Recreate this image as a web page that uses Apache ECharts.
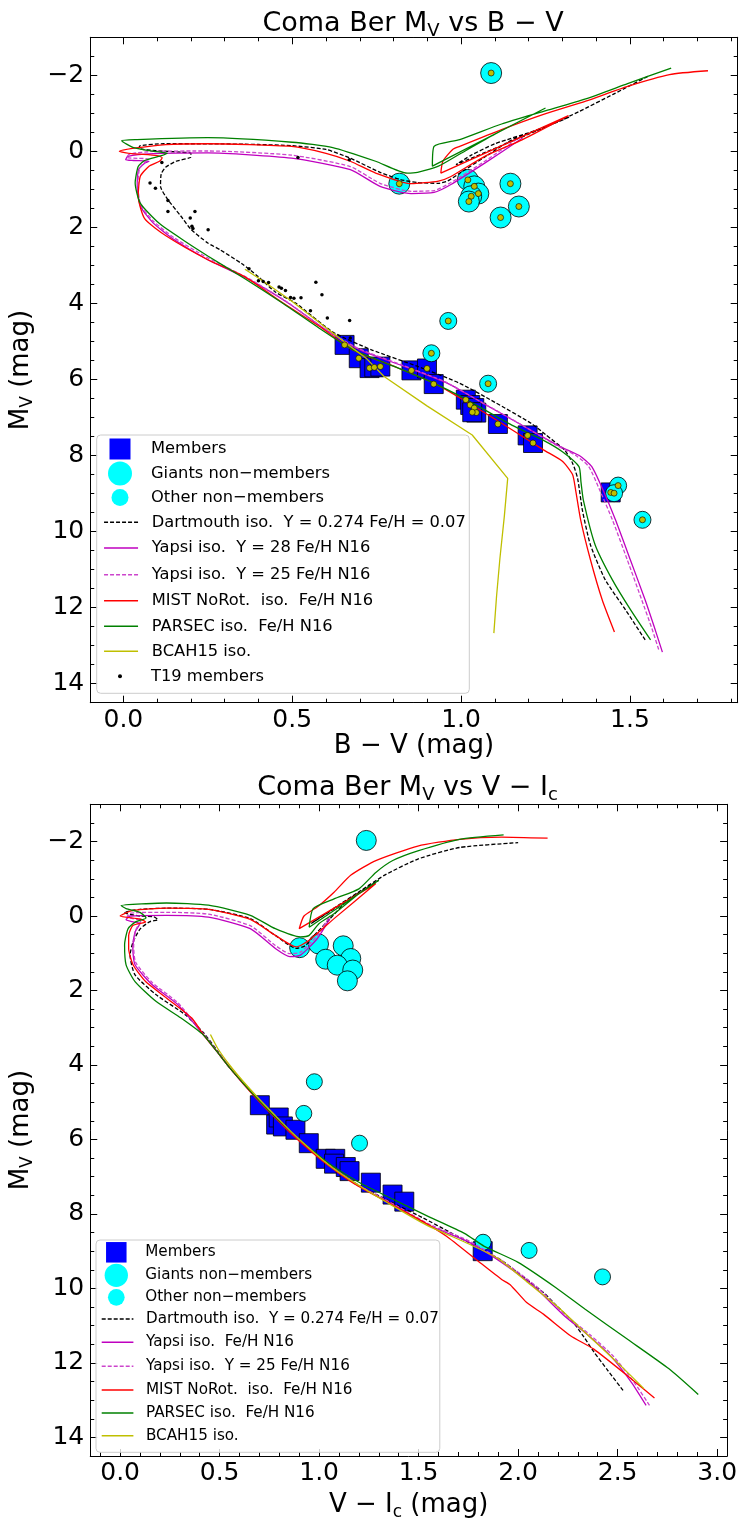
<!DOCTYPE html>
<html><head><meta charset="utf-8">
<script src="https://cdn.jsdelivr.net/npm/echarts@6/dist/echarts.min.js"></script>
<style>html,body{margin:0;padding:0;background:#fff}#c{width:740px;height:1522px}</style>
</head><body><div id="c"></div>
<script>
// ---------- tick labels ----------
const bvXTicks = [0, 0.5, 1.0, 1.5];
const viXTicks = [0, 0.5, 1.0, 1.5, 2.0, 2.5, 3.0];
const magTicks = [-2, 0, 2, 4, 6, 8, 10, 12, 14];

// ---------- top panel: Mv vs B-V ----------
const bvMembers = [[0.655,5.09],[0.697,5.44],[0.729,5.70],[0.743,5.68],[0.761,5.66],[0.853,5.76],[0.899,5.71],[0.919,6.12],[1.014,6.53],[1.027,6.67],[1.039,6.75],[1.045,6.87],[1.033,6.86],[1.109,7.17],[1.197,7.47],[1.213,7.67],[1.443,8.97]];
const bvGiants = [[1.089,-2.06],[0.817,0.85],[1.020,0.75],[1.039,0.92],[1.051,1.11],[1.030,1.18],[1.023,1.32],[1.146,0.85],[1.171,1.45],[1.117,1.74]];
const bvOthers = [[0.962,4.46],[0.912,5.31],[1.080,6.11],[1.465,8.79],[1.453,8.99],[1.537,9.69]];
const bvT19 = [[0.114,0.29],[0.079,0.83],[0.095,0.97],[0.132,1.29],[0.132,1.58],[0.198,1.75],[0.203,1.97],[0.206,2.03],[0.212,1.58],[0.251,2.06],[0.517,0.16],[0.669,0.22],[0.372,3.09],[0.40,3.40],[0.414,3.42],[0.43,3.45],[0.461,3.57],[0.468,3.60],[0.48,3.66],[0.495,3.84],[0.505,3.86],[0.526,3.85],[0.554,4.19],[0.570,3.44],[0.588,3.77],[0.604,4.38],[0.670,4.45],[0.672,4.91]];
const bvDartmouth = [[1.545,12.85],[1.487,12.06],[1.427,11.27],[1.383,10.35],[1.359,9.43],[1.345,8.6],[1.33,8.2],[1.306,7.85],[1.25,7.45],[1.207,7.15],[1.10,6.6],[0.996,6.1],[0.87,5.65],[0.735,5.22],[0.62,4.75],[0.51,3.99],[0.45,3.7],[0.399,3.29],[0.35,2.95],[0.287,2.59],[0.25,2.41],[0.2,2.05],[0.17,1.7],[0.132,1.27],[0.11,0.92],[0.112,0.6],[0.125,0.42],[0.156,0.26],[0.2,0.15],[0.2,0.05],[0.17,0.02],[0.095,-0.02],[0.045,-0.08],[0.05,-0.15],[0.12,-0.2],[0.25,-0.2],[0.4,-0.18],[0.498,-0.15],[0.6,-0.05],[0.672,0.18],[0.76,0.55],[0.82,0.74],[0.871,0.82],[0.933,0.84],[0.96,0.78],[1.0,0.55],[1.07,0.15],[1.15,-0.3],[1.25,-0.65],[1.32,-0.9],[0.985,0.35],[1.03,0.1],[1.1,-0.2],[1.244,-0.62],[1.35,-1.05],[1.45,-1.5],[1.557,-1.99]];
const bvYapsi28 = [[1.596,13.17],[1.575,12.59],[1.545,11.8],[1.501,10.74],[1.457,9.69],[1.42,8.9],[1.387,8.29],[1.35,8.0],[1.29,7.75],[1.17,7.15],[1.06,6.6],[0.96,6.1],[0.83,5.65],[0.70,5.22],[0.6,4.7],[0.49,4.0],[0.374,3.38],[0.25,2.85],[0.15,2.32],[0.088,1.88],[0.051,1.45],[0.041,0.92],[0.045,0.48],[0.063,0.31],[0.076,0.26],[0.03,0.24],[0.007,0.22],[0.013,0.13],[0.088,0.06],[0.25,0.04],[0.498,0.18],[0.672,0.48],[0.76,0.92],[0.852,1.11],[0.92,1.08],[0.97,0.87],[1.07,0.31],[1.182,-0.35]];
const bvYapsi25 = [[1.585,13.1],[1.565,12.55],[1.535,11.8],[1.492,10.74],[1.448,9.69],[1.41,8.9],[1.378,8.29],[1.34,8.0],[1.28,7.72],[1.165,7.12],[1.055,6.57],[0.955,6.07],[0.825,5.62],[0.695,5.18],[0.595,4.66],[0.485,3.96],[0.37,3.34],[0.25,2.80],[0.15,2.27],[0.088,1.83],[0.051,1.40],[0.043,0.88],[0.048,0.45],[0.065,0.27],[0.075,0.2],[0.03,0.18],[0.01,0.16],[0.018,0.07],[0.09,0.0],[0.25,-0.01],[0.498,0.1],[0.672,0.4],[0.76,0.84],[0.852,1.05],[0.92,1.03],[0.97,0.82],[1.07,0.26],[1.175,-0.38]];
const bvMIST = [[1.454,12.64],[1.418,11.8],[1.383,10.74],[1.354,9.69],[1.339,8.9],[1.33,8.5],[1.3,8.15],[1.244,7.85],[1.12,7.15],[1.0,6.5],[0.921,6.1],[0.8,5.65],[0.679,5.22],[0.58,4.6],[0.473,3.99],[0.36,3.3],[0.25,2.85],[0.126,2.22],[0.063,1.77],[0.044,1.18],[0.05,0.66],[0.076,0.39],[0.107,0.26],[0.115,0.17],[0.1,0.11],[0.025,0.06],[-0.012,0.0],[0.038,-0.09],[0.126,-0.18],[0.25,-0.2],[0.498,-0.13],[0.6,0.05],[0.672,0.26],[0.747,0.57],[0.852,0.85],[0.933,0.78],[0.97,0.66],[1.07,0.13],[1.182,-0.31],[1.318,-0.94],[0.94,0.57],[0.946,0.26],[0.975,-0.05],[0.996,-0.13],[1.12,-0.57],[1.244,-0.97],[1.369,-1.32],[1.493,-1.71],[1.617,-2.02],[1.731,-2.12]];
const bvPARSEC = [[1.561,12.85],[1.502,12.06],[1.448,11.27],[1.397,10.35],[1.362,9.17],[1.355,8.7],[1.349,8.29],[1.3,7.9],[1.244,7.6],[1.15,7.2],[1.0,6.45],[0.92,6.1],[0.8,5.65],[0.68,5.22],[0.58,4.65],[0.473,4.0],[0.36,3.35],[0.25,2.75],[0.18,2.35],[0.107,1.9],[0.05,1.36],[0.035,0.83],[0.044,0.4],[0.063,0.24],[0.11,0.12],[0.13,0.05],[0.09,0.0],[0.03,-0.1],[-0.005,-0.28],[0.04,-0.31],[0.25,-0.36],[0.5,-0.24],[0.62,-0.1],[0.747,0.26],[0.84,0.57],[0.871,0.55],[0.933,0.39],[1.0,0.05],[1.1,-0.45],[1.25,-1.14],[0.915,0.39],[0.92,-0.13],[0.996,-0.31],[1.12,-0.72],[1.244,-1.05],[1.369,-1.38],[1.493,-1.78],[1.622,-2.19]];
const bvBCAH15 = [[0.36,3.1],[0.42,3.45],[0.5,3.95],[0.58,4.5],[0.66,5.05],[0.72,5.45],[0.772,5.92],[0.9,6.7],[1.033,7.46],[1.138,8.6],[1.128,9.6],[1.115,10.7],[1.105,11.7],[1.097,12.67]];

// ---------- bottom panel: Mv vs V-Ic ----------
const viMembers = [[0.702,5.08],[0.784,5.60],[0.797,5.41],[0.818,5.65],[0.881,5.74],[0.948,6.10],[1.033,6.52],[1.081,6.52],[1.075,6.65],[1.134,6.74],[1.153,6.85],[1.260,7.16],[1.369,7.48],[1.428,7.67],[1.822,9.00]];
const viGiants = [[1.237,-2.03],[0.902,0.85],[0.997,0.75],[1.033,1.16],[1.121,0.80],[1.159,1.14],[1.091,1.32],[1.169,1.45],[1.142,1.74]];
const viOthers = [[0.976,4.45],[0.923,5.30],[1.203,6.10],[1.824,8.76],[2.055,8.98],[2.424,9.69]];
const viDartmouth = [[2.527,12.74],[2.45,12.2],[2.38,11.7],[2.33,11.3],[2.275,10.9],[2.2,10.5],[2.127,10.11],[2.04,9.75],[1.917,9.25],[1.78,8.85],[1.66,8.5],[1.52,8.1],[1.35,7.65],[1.19,7.2],[1.07,6.75],[0.965,6.3],[0.87,5.85],[0.785,5.4],[0.70,4.96],[0.625,4.51],[0.55,4.07],[0.49,3.63],[0.42,3.14],[0.327,2.65],[0.18,2.11],[0.075,1.58],[0.05,1.05],[0.065,0.7],[0.1,0.35],[0.15,0.15],[0.19,0.1],[0.17,0.02],[0.1,0.0],[0.02,-0.09],[0.1,-0.18],[0.233,-0.21],[0.444,-0.18],[0.654,0.07],[0.78,0.52],[0.885,0.87],[0.93,0.8],[0.97,0.55],[1.05,0.1],[1.15,-0.45],[1.3,-0.96],[0.96,0.2],[1.1,-0.3],[1.2,-0.65],[1.327,-1.09],[1.496,-1.53],[1.706,-1.84],[2.0,-1.97]];
const viYapsi = [[2.643,13.14],[2.569,12.52],[2.464,11.81],[2.35,11.25],[2.233,10.74],[2.08,9.95],[1.917,9.3],[1.75,8.75],[1.55,8.3],[1.37,7.75],[1.19,7.22],[1.065,6.76],[0.96,6.3],[0.865,5.85],[0.78,5.4],[0.70,4.96],[0.62,4.51],[0.55,4.07],[0.485,3.63],[0.42,3.2],[0.29,2.38],[0.16,1.84],[0.075,1.31],[0.064,0.87],[0.075,0.43],[0.1,0.2],[0.06,0.15],[0.03,0.1],[0.05,0.0],[0.233,-0.02],[0.444,0.03],[0.654,0.34],[0.78,0.87],[0.853,1.09],[0.906,1.05],[0.99,0.61],[1.054,0.07]];
const viYapsi25 = [[2.66,13.14],[2.58,12.5],[2.475,11.8],[2.36,11.24],[2.24,10.72],[2.09,9.94],[1.925,9.28],[1.755,8.73],[1.555,8.28],[1.372,7.73],[1.19,7.2],[1.065,6.74],[0.96,6.28],[0.865,5.83],[0.78,5.38],[0.70,4.94],[0.62,4.49],[0.55,4.05],[0.485,3.61],[0.42,3.17],[0.29,2.33],[0.16,1.78],[0.078,1.24],[0.068,0.8],[0.08,0.36],[0.105,0.12],[0.065,0.07],[0.035,0.02],[0.055,-0.08],[0.233,-0.1],[0.444,-0.05],[0.654,0.26],[0.78,0.79],[0.853,1.01],[0.906,0.97],[0.99,0.53],[1.054,-0.01]];
const viMIST = [[2.685,12.94],[2.569,12.43],[2.38,11.63],[2.263,11.27],[2.127,10.69],[2.043,10.38],[1.96,9.9],[1.917,9.76],[1.79,9.23],[1.64,8.6],[1.52,8.2],[1.35,7.7],[1.18,7.2],[1.06,6.75],[0.955,6.3],[0.86,5.85],[0.775,5.4],[0.695,4.96],[0.62,4.51],[0.55,4.07],[0.485,3.63],[0.42,3.2],[0.36,2.74],[0.233,2.2],[0.128,1.76],[0.065,1.31],[0.043,0.87],[0.043,0.52],[0.065,0.25],[0.128,0.16],[0.1,0.08],[0.0,0.0],[0.065,-0.15],[0.233,-0.21],[0.444,-0.18],[0.654,0.09],[0.78,0.52],[0.885,0.83],[0.95,0.65],[1.075,0.07],[1.285,-0.87],[0.9,0.34],[0.924,0.0],[0.99,-0.24],[1.075,-0.64],[1.16,-1.1],[1.285,-1.49],[1.496,-1.88],[1.706,-2.06],[1.917,-2.12],[2.148,-2.09]];
const viPARSEC = [[2.905,12.85],[2.758,12.16],[2.548,11.36],[2.337,10.56],[2.19,9.98],[2.0,9.3],[1.83,8.87],[1.73,8.52],[1.55,8.07],[1.38,7.63],[1.2,7.15],[1.07,6.72],[0.965,6.29],[0.87,5.85],[0.78,5.4],[0.70,4.96],[0.622,4.51],[0.55,4.07],[0.485,3.63],[0.42,3.2],[0.306,2.74],[0.18,2.29],[0.075,1.76],[0.03,1.31],[0.0225,0.78],[0.04,0.34],[0.08,0.15],[0.13,0.05],[0.1,-0.1],[0.03,-0.2],[0.005,-0.28],[0.13,-0.33],[0.233,-0.35],[0.444,-0.29],[0.654,-0.02],[0.78,0.34],[0.906,0.56],[0.95,0.52],[1.0,0.2],[1.075,-0.06],[1.2,-0.6],[1.3,-0.96],[0.95,0.3],[0.97,-0.2],[1.075,-0.46],[1.2,-0.73],[1.285,-1.17],[1.37,-1.49],[1.496,-1.75],[1.706,-2.06],[1.927,-2.18]];
const viBCAH15 = [[0.454,3.18],[0.49,3.55],[0.55,4.0],[0.62,4.45],[0.70,4.92],[0.78,5.36],[0.865,5.82],[0.96,6.28],[1.065,6.75],[1.19,7.2],[1.35,7.72],[1.54,8.3],[1.75,8.8],[1.9,9.2],[2.05,9.85],[2.2,10.5],[2.3,11.0],[2.4,11.5],[2.52,12.1],[2.632,12.69]];

// ---------- legend labels ----------
const NM_MEM = 'Members', NM_GIA = 'Giants non\u2212members', NM_OTH = 'Other non\u2212members';
const NM_DART = 'Dartmouth iso.  Y = 0.274 Fe/H = 0.07';
const NM_Y28 = 'Yapsi iso.  Y = 28 Fe/H N16', NM_Y25 = 'Yapsi iso.  Y = 25 Fe/H N16', NM_Y = 'Yapsi iso.  Fe/H N16';
const NM_MIST = 'MIST NoRot.  iso.  Fe/H N16', NM_PAR = 'PARSEC iso.  Fe/H N16', NM_BCAH = 'BCAH15 iso.', NM_T19 = 'T19 members';

const FONT = 'DejaVu Sans';
const minus = v => v < 0 ? '\u2212' + Math.abs(v) : String(v);
function minors(majors, step, lo, hi) {
  const out = [];
  for (let v = lo; v <= hi + 1e-9; v += step) {
    const r = Math.round(v * 100) / 100;
    if (!majors.some(m => Math.abs(m - r) < 1e-6)) out.push(r);
  }
  return out;
}
function axes(gi, dim, min, max, majors, minorVals, fmt, name, nameGap) {
  const pos = dim === 'x' ? ['bottom', 'top'] : ['left', 'right'];
  const base = {gridIndex: gi, type: 'value', min, max, splitLine: {show: false}, inverse: dim === 'y'};
  const line = {show: true, onZero: false, lineStyle: {color: '#000', width: 1}};
  const noLine = {show: false, onZero: false};
  const tk = (vals, len) => ({show: true, inside: true, length: len, customValues: vals, lineStyle: {color: '#000', width: 1}});
  return [
    Object.assign({}, base, {position: pos[0], axisLine: line, axisTick: tk(majors, 7),
      axisLabel: {show: true, customValues: majors, formatter: fmt, fontSize: 25, fontFamily: FONT, color: '#000', margin: dim === 'x' ? 5 : 6},
      name, nameLocation: 'middle', nameGap,
      nameTextStyle: {fontSize: 26, fontFamily: FONT, color: '#000',
        rich: {s: {fontSize: 17, fontFamily: FONT, color: '#000', padding: [14, 0, 0, 0]}}}}),
    Object.assign({}, base, {position: pos[0], axisLine: noLine, axisTick: tk(minorVals, 4), axisLabel: {show: false}}),
    Object.assign({}, base, {position: pos[1], axisLine: line, axisTick: tk(majors, 7), axisLabel: {show: false}}),
    Object.assign({}, base, {position: pos[1], axisLine: noLine, axisTick: tk(minorVals, 4), axisLabel: {show: false}})
  ];
}

const bvRange = [-0.098, 1.819], viRange = [-0.15, 3.05], magRange = [-3, 14.5];
const xAxes = [].concat(
  axes(0, 'x', bvRange[0], bvRange[1], bvXTicks, minors(bvXTicks, 0.1, 0.1, 1.8), v => v.toFixed(1), 'B \u2212 V (mag)', 28),
  axes(1, 'x', viRange[0], viRange[1], viXTicks, minors(viXTicks, 0.1, -0.1, 3.0), v => v.toFixed(1), 'V \u2212 I{s|c} (mag)', 34)
);
const yAxes = [].concat(
  axes(0, 'y', magRange[0], magRange[1], magTicks, minors(magTicks, 0.5, -2.5, 14), minus, 'M{s|V} (mag)', 39),
  axes(1, 'y', magRange[0], magRange[1], magTicks, minors(magTicks, 0.5, -2.5, 14), minus, 'M{s|V} (mag)', 39)
);

function lineS(name, data, gi, color, dashed, smooth) {
  return {type: 'line', name, data, xAxisIndex: gi * 4, yAxisIndex: gi * 4, symbol: 'none', showSymbol: false,
    smooth: smooth === undefined ? 0.2 : smooth,
    lineStyle: {color, width: 1.3, type: dashed ? [4, 2] : 'solid'}, itemStyle: {color}, z: 3, silent: true, animation: false};
}
function scat(name, data, gi, symbol, size, color, z) {
  return {type: 'scatter', name, data, xAxisIndex: gi * 4, yAxisIndex: gi * 4, symbol, symbolSize: size,
    itemStyle: {color, borderColor: '#000', borderWidth: 0.8, opacity: 1}, z: z || 2, silent: true, animation: false};
}

const series = [
  scat(NM_MEM, bvMembers, 0, 'rect', 19, '#0000ff'),
  scat(NM_GIA, bvGiants, 0, 'circle', 21, '#00ffff'),
  scat(NM_OTH, bvOthers, 0, 'circle', 17, '#00ffff'),
  lineS(NM_DART, bvDartmouth, 0, '#000000', true),
  lineS(NM_Y28, bvYapsi28, 0, '#bf00bf', false),
  lineS(NM_Y25, bvYapsi25, 0, '#cc44cc', true),
  lineS(NM_MIST, bvMIST, 0, '#ff0000', false),
  lineS(NM_PAR, bvPARSEC, 0, '#008000', false),
  lineS(NM_BCAH, bvBCAH15, 0, '#bfbf00', false, false),
  scat('olive', bvMembers.concat(bvGiants, bvOthers), 0, 'circle', 6, '#bfbf00', 4),
  scat(NM_T19, bvT19, 0, 'circle', 3.5, '#000000', 4),
  scat(NM_MEM, viMembers, 1, 'rect', 19, '#0000ff'),
  scat(NM_GIA, viGiants, 1, 'circle', 20, '#00ffff'),
  scat(NM_OTH, viOthers, 1, 'circle', 16, '#00ffff'),
  lineS(NM_DART, viDartmouth, 1, '#000000', true),
  lineS(NM_Y, viYapsi, 1, '#bf00bf', false),
  lineS(NM_Y25, viYapsi25, 1, '#cc44cc', true),
  lineS(NM_MIST, viMIST, 1, '#ff0000', false),
  lineS(NM_PAR, viPARSEC, 1, '#008000', false),
  lineS(NM_BCAH, viBCAH15, 1, '#bfbf00', false)
];
series[9].itemStyle.borderWidth = 0.6;
series[10].itemStyle.borderWidth = 0;

// legends: one component per row so each marker keeps its own size
function leg(name, cx, cy, w, h, textX, fs, icon) {
  const left = cx - w / 2;
  const hh = Math.max(h, 20);
  return {show: true, orient: 'vertical', left, top: cy - hh / 2, itemWidth: w, itemHeight: hh, padding: 0,
    data: [icon ? {name, icon} : {name}], selectedMode: false, z: 20,
    itemStyle: icon ? {borderWidth: 0} : {opacity: 0, borderWidth: 0}, lineStyle: {width: 1.5},
    textStyle: {fontSize: fs, fontFamily: FONT, color: '#000', padding: [0, 0, 0, textX - (left + w + 5)]}};
}
const legends = [
  leg(NM_MEM, 120, 449, 21, 21, 151, 16.3, 'rect'),
  leg(NM_GIA, 120, 473.5, 24, 24, 151, 16.3, 'circle'),
  leg(NM_OTH, 120, 499, 17, 17, 151, 16.3, 'circle'),
  leg(NM_DART, 120.3, 524.3, 34, 20, 151, 16.3),
  leg(NM_Y28, 120.3, 550, 34, 20, 151, 16.3),
  leg(NM_Y25, 120.3, 576.7, 34, 20, 151, 16.3),
  leg(NM_MIST, 120.3, 602.7, 34, 20, 151, 16.3),
  leg(NM_PAR, 120.3, 628.3, 34, 20, 151, 16.3),
  leg(NM_BCAH, 120.3, 653.3, 34, 20, 151, 16.3),
  leg(NM_T19, 120, 678.3, 4, 4, 151, 16.3, 'circle'),
  leg(NM_MEM, 116.3, 1252.3, 20.5, 20.5, 145.2, 15.2, 'rect'),
  leg(NM_GIA, 116.3, 1275.3, 23.3, 23.3, 145.2, 15.2, 'circle'),
  leg(NM_OTH, 116.3, 1299, 16.7, 16.7, 145.2, 15.2, 'circle'),
  leg(NM_DART, 116.8, 1321, 31.7, 20, 145.2, 15.2),
  leg(NM_Y, 116.8, 1344.3, 31.7, 20, 145.2, 15.2),
  leg(NM_Y25, 116.8, 1368.3, 31.7, 20, 145.2, 15.2),
  leg(NM_MIST, 116.8, 1392, 31.7, 20, 145.2, 15.2),
  leg(NM_PAR, 116.8, 1415, 31.7, 20, 145.2, 15.2),
  leg(NM_BCAH, 116.8, 1437.7, 31.7, 20, 145.2, 15.2)
];

const titleRich = {s: {fontSize: 18, fontFamily: FONT, color: '#000', padding: [15, 0, 0, 0]}};
const option = {
  animation: false,
  backgroundColor: '#ffffff',
  title: [
    {text: 'Coma Ber M{s|V} vs B \u2212 V', left: 413, top: 7, textAlign: 'center', padding: 0,
      textStyle: {fontSize: 27, fontWeight: 'normal', fontFamily: FONT, color: '#000', rich: titleRich}},
    {text: 'Coma Ber M{s|V} vs V \u2212 I{s|c}', left: 407.5, top: 771, textAlign: 'center', padding: 0,
      textStyle: {fontSize: 27, fontWeight: 'normal', fontFamily: FONT, color: '#000', rich: titleRich}}
  ],
  grid: [
    {left: 88.4, top: 37.3, width: 649.3, height: 665.4, containLabel: false},
    {left: 87.7, top: 804.3, width: 639.6, height: 655.7, containLabel: false}
  ],
  xAxis: xAxes,
  yAxis: yAxes,
  legend: legends,
  graphic: [
    {type: 'rect', z: 10, shape: {x: 96.7, y: 435, width: 372.6, height: 258.3, r: 4},
      style: {fill: 'rgba(255,255,255,0.8)', stroke: '#cccccc', lineWidth: 1}},
    {type: 'rect', z: 10, shape: {x: 96, y: 1240, width: 343.8, height: 212.3, r: 4},
      style: {fill: 'rgba(255,255,255,0.8)', stroke: '#cccccc', lineWidth: 1}}
  ],
  series
};
const chart = echarts.init(document.getElementById('c'), null, {renderer: 'canvas'});
chart.setOption(option);
</script></body></html>
